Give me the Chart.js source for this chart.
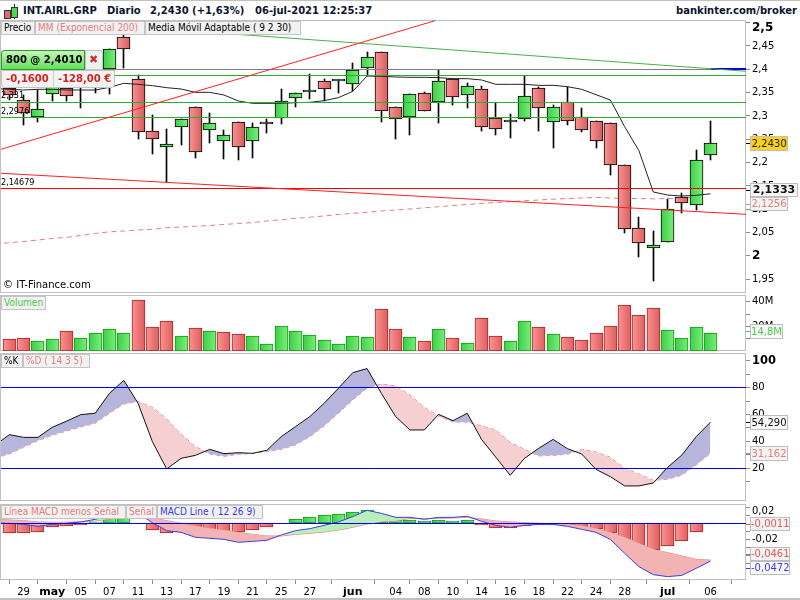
<!DOCTYPE html>
<html>
<head>
<meta charset="utf-8">
<script src="https://cdn.jsdelivr.net/npm/chart.js@4/dist/chart.umd.min.js"></script>
<style>
body { margin:0; background:#fff; width:800px; height:600px; overflow:hidden; font-family:"DejaVu Sans",sans-serif; font-size:10px; }
canvas { position:absolute; left:0; }
.frame { position:absolute; left:0; width:746px; box-sizing:border-box; border:1px solid #c0c0c0; }
.t { position:absolute; white-space:nowrap; line-height:14px; }
.tab { position:absolute; box-sizing:border-box; height:14px; line-height:12px; background:#f1f1f1; border:1px solid #c4c4c4; white-space:nowrap; overflow:hidden; padding-left:2px; font-family:"DejaVu Sans Condensed","DejaVu Sans",sans-serif; }
.box { position:absolute; box-sizing:border-box; border:1px solid #bdbdbd; background:#f3f3f3; text-align:center; white-space:nowrap; }
.dash { position:absolute; left:746px; width:4px; height:1px; }
</style>
</head>
<body>
<div style="position:absolute;left:0;top:0;width:800px;height:1px;background:#c0c0c0"></div>
<div style="position:absolute;left:0;top:598px;width:800px;height:2px;background:#c0c0c0"></div>
<div class="frame" style="top:20px;height:273px"></div>
<div class="frame" style="top:295px;height:56px"></div>
<div class="frame" style="top:353px;height:148px"></div>
<div class="frame" style="top:504px;height:76px"></div>
<canvas id="priceChart" width="800" height="273" style="top:20px"></canvas>
<canvas id="volumeChart" width="800" height="56" style="top:295px"></canvas>
<canvas id="stochChart" width="800" height="148" style="top:353px"></canvas>
<canvas id="macdChart" width="800" height="96" style="top:504px"></canvas>
<div id="overlay"></div>
<script>
const opens = [2.3592,2.3342,2.2985,2.3464,2.3592,2.3699,2.3771,2.4000,2.4685,2.3785,2.2671,2.2328,2.2771,2.3185,2.2692,2.2471,2.2864,2.2456,2.2864,2.2949,2.3392,2.3506,2.3749,2.3749,2.3692,2.4035,2.4364,2.3199,2.2985,2.3485,2.3292,2.3785,2.3442,2.3571,2.2949,2.2878,2.2928,2.3592,2.2864,2.3292,2.2985,2.2885,2.2842,2.1942,2.0592,2.0178,2.0292,2.1256,2.1085,2.2156];
const highs = [2.3664,2.3449,2.3556,2.3985,2.3771,2.4021,2.4128,2.4428,2.4735,2.3885,2.3021,2.2721,2.2928,2.3185,2.3064,2.2692,2.2864,2.2856,2.2928,2.3571,2.3485,2.3892,2.3785,2.3771,2.4128,2.4371,2.4364,2.3199,2.3478,2.3514,2.3985,2.3785,2.3699,2.3635,2.3285,2.3035,2.3856,2.3614,2.3235,2.3614,2.3171,2.2885,2.2842,2.1942,2.0835,2.0535,2.1221,2.1342,2.2271,2.2892];
const lows = [2.3342,2.2806,2.2878,2.3328,2.3328,2.3178,2.3485,2.3471,2.4035,2.2506,2.2185,2.1578,2.2378,2.2106,2.2421,2.2085,2.2056,2.2106,2.2635,2.2828,2.3199,2.3364,2.3314,2.3499,2.3542,2.3856,2.2878,2.2514,2.2599,2.3099,2.2856,2.3235,2.3178,2.2685,2.2599,2.2535,2.2899,2.2685,2.2321,2.2814,2.2664,2.2321,2.1742,2.0499,1.9985,1.9471,2.0292,2.0914,2.0985,2.2056];
const closes = [2.3449,2.3071,2.3142,2.3628,2.3435,2.3878,2.4021,2.4428,2.4428,2.2664,2.2514,2.2392,2.2928,2.2235,2.2842,2.2592,2.2328,2.2756,2.2821,2.3314,2.3485,2.3535,2.3585,2.3749,2.3978,2.4256,2.3099,2.2928,2.3478,2.3099,2.3756,2.3414,2.3649,2.2756,2.2714,2.2906,2.3435,2.3164,2.3185,2.2885,2.2692,2.2456,2.1942,2.0571,2.0271,2.0235,2.0999,2.1128,2.2049,2.2430];
// line series below start one bar before the first candle, off the left edge
const adaptiveMA = [2.3585,2.3571,2.3556,2.3571,2.3571,2.3556,2.3556,2.3556,2.3614,2.3699,2.3678,2.3649,2.3606,2.3578,2.3506,2.3506,2.3449,2.3321,2.3271,2.3271,2.3271,2.3285,2.3292,2.3328,2.3392,2.3528,2.3856,2.3849,2.3835,2.3828,2.3828,2.3821,2.3799,2.3799,2.3771,2.3678,2.3678,2.3678,2.3656,2.3656,2.3628,2.3571,2.3456,2.3342,2.2771,2.2256,2.1371,2.1306,2.1285,2.1299,2.1333];
const ema200 = [2.0258,2.0285,2.0310,2.0342,2.0375,2.0400,2.0439,2.0482,2.0518,2.0535,2.0557,2.0572,2.0606,2.0621,2.0636,2.0653,2.0675,2.0696,2.0717,2.0750,2.0777,2.0807,2.0831,2.0857,2.0889,2.0914,2.0936,2.0964,2.0985,2.1007,2.1032,2.1056,2.1082,2.1103,2.1127,2.1146,2.1163,2.1184,2.1199,2.1217,2.1232,2.1242,2.1255,2.1242,2.1234,2.1230,2.1225,2.1230,2.1236,2.1256];
const stochK = [37.1,45.0,43.0,43.0,50.5,55.0,59.9,60.9,75.7,85.4,68.3,39.8,19.5,27.4,29.6,34.1,30.9,31.6,31.1,33.4,43.5,51.0,58.4,68.3,79.5,91.1,94.1,75.7,58.4,48.5,48.5,60.1,55.4,60.9,41.5,28.2,14.8,27.4,34.9,41.5,34.6,30.6,19.2,13.8,6.9,6.9,9.1,20.7,29.9,43.5,54.29];
const stochD = [27.7,30.6,35.6,40.6,44.5,47.7,50.7,53.4,60.9,67.8,69.6,65.3,56.7,45.5,36.1,30.6,28.9,30.4,31.1,32.6,34.1,37.3,43.5,51.5,60.9,70.8,79.5,82.7,81.2,74.5,65.3,58.9,54.4,54.4,51.5,48.5,39.3,34.1,29.2,29.6,30.4,34.1,32.1,28.2,20.0,15.8,11.1,11.8,15.0,22.5,31.162];
const macdLine = [0.0004,0,-0.0013,-0.0038,-0.0013,0,0.0017,0.005,0.0092,0.0146,0.0125,0.0008,-0.0092,-0.0113,-0.0175,-0.0188,-0.0201,-0.0238,-0.0226,-0.0213,-0.0146,-0.0092,-0.0067,-0.0025,0.0017,0.0084,0.0163,0.0125,0.0075,0.0075,0.005,0.0075,0.0075,0.0088,0.0025,-0.0025,-0.005,-0.0025,-0.0013,-0.0013,-0.0038,-0.0075,-0.0113,-0.0201,-0.0376,-0.0543,-0.0643,-0.0668,-0.0652,-0.0564,-0.0472];
const macdSignal = [0.0050,0.0042,0.0033,0.0017,0.0013,0.0013,0.0021,0.0029,0.0054,0.0084,0.0092,0.0067,0.0033,0,-0.0033,-0.0063,-0.0084,-0.0113,-0.0138,-0.0159,-0.0159,-0.0138,-0.0125,-0.0109,-0.0084,-0.005,-0.0008,0.0021,0.0029,0.0063,0.0058,0.0063,0.0067,0.0075,0.0054,0.0029,0.0017,0.0008,0,-0.0004,-0.0013,-0.0029,-0.0063,-0.0113,-0.0175,-0.0251,-0.0326,-0.0368,-0.0409,-0.0451,-0.0461];
const volumes = [9.6,10.4,7.9,9.6,16.1,10.4,14.5,17.8,14.5,41.5,19.4,24.3,12,18.6,16.1,15.3,13.7,12,5.5,20.2,16.1,12.8,8.7,5.5,12,11.2,34.2,17.8,11.2,7.9,17.8,10.4,6.3,26.8,12,7.9,24.3,19.4,13.7,11.2,8.7,14.5,20.2,37.4,29.2,35,16.9,10.4,19.4,14.8];
const volumeUp = [0,0,1,1,0,1,1,1,1,0,0,0,1,0,1,0,0,1,1,1,1,1,1,1,1,1,0,0,1,0,1,0,1,0,0,1,1,0,1,0,0,0,0,0,0,0,1,1,1,1];
const macdHist = [-0.0125,-0.0125,-0.0113,-0.005,-0.0038,-0.0025,0.0017,0.012,0.012,0,-0.0079,-0.0125,-0.0113,-0.015,-0.0125,-0.0113,-0.0113,-0.0088,-0.005,0,0.005,0.0075,0.01,0.0113,0.0138,0.0163,0.01,0.0038,0.0038,0.0025,0.0038,0.0025,0.0038,-0.0025,-0.0063,-0.0063,-0.0033,-0.002,-0.002,-0.0033,-0.005,-0.0075,-0.0125,-0.0226,-0.0301,-0.0338,-0.0288,-0.0226,-0.0113,-0.0011];
const dayLabels = ['','29','','may','','05','','07','','11','','13','','17','','19','','21','','25','','27','','','jun','','','04','','08','','10','','14','','16','','18','','22','','24','','28','','','jul','','','06'];
const priceTicks = [2.5,2.45,2.4,2.35,2.3,2.25,2.2,2.15,2.1,2.05,2,1.95];
const volumeTicks = [40,30,20,10];
const stochTicks = [100,90,80,70,60,50,40,30,20,10];
const macdTicks = [0.02,0.01,-0.01,-0.02,-0.03,-0.04,-0.05];
// drawn objects: [bar index, price]
const riseLine = [[-0.58,2.2286],[29.75,2.5041]];
const fallLine = [[-0.58,2.1772],[51.48,2.0893]];
const greenTrend = [[15.63,2.4756],[51.48,2.3957]];
const levelGrey = [[-0.58,2.4],[49,2.4]];
const levelBlue = [[49,2.4],[51.48,2.4]];
const levelGreen = [2.3871,2.3285,2.2971];
const levelRed = 2.1446;
const xMin = -0.58, xMax = 51.48;

Chart.defaults.font.family = '"DejaVu Sans", sans-serif';
Chart.defaults.font.size = 10;
Chart.defaults.color = '#000';
Chart.defaults.animation = false;

const idx = volumes.map((v, i) => i);
const pts = (arr, from = 0) => arr.map((y, i) => ({ x: i + from, y }));
const seg = arr => arr.map(p => ({ x: p[0], y: p[1] }));
const flat = y => [{ x: xMin, y }, { x: xMax, y }];
const comma = v => String(v).replace('.', ',');

function lineSet(data, color, order, extra) {
  return Object.assign({ type: 'line', data, borderColor: color, borderWidth: 1, pointRadius: 0, tension: 0, order, spanGaps: false }, extra);
}

function barFill(ctx, left, right) {
  if (!ctx.parsed) return left;
  const p = ctx.chart.scales.x.getPixelForValue(ctx.parsed.x);
  if (!isFinite(p)) return left;
  const g = ctx.chart.ctx.createLinearGradient(p - 6, 0, p + 6, 0);
  g.addColorStop(0, left);
  g.addColorStop(1, right);
  return g;
}
const redFill = ctx => barFill(ctx, '#f79292', '#d85f5f');
const greenFill = ctx => barFill(ctx, '#3ed04a', '#78ec78');

// keep bars and flat lines on whole pixels so they stay crisp like the original
const snapPlugin = {
  id: 'snap',
  beforeDatasetDraw(chart, args) {
    const meta = chart.getDatasetMeta(args.index);
    const snap = chart.data.datasets[args.index].snap;
    if (meta.type === 'bar') {
      meta.data.forEach(el => {
        el.x = Math.floor(el.x) + 0.5;
        el.y = Math.round(el.y);
        el.base = Math.round(el.base);
      });
    } else if (snap === 1) {
      meta.data.forEach(el => { el.y = Math.floor(el.y) + 0.5; });
    } else if (snap === 2) {
      meta.data.forEach(el => { el.y = Math.round(el.y); });
    }
  }
};

function panel(id, datasets, yMin, yMax, yTicks, yLabel, yFont, hasX) {
  return new Chart(document.getElementById(id), {
    type: 'bar',
    data: { datasets },
    plugins: [snapPlugin],
    options: {
      responsive: false,
      events: [],
      layout: { autoPadding: false, padding: { left: 1 } },
      plugins: { legend: { display: false }, tooltip: { enabled: false } },
      scales: {
        x: {
          type: 'linear', min: xMin, max: xMax, display: hasX, offset: false,
          border: { display: false },
          grid: { drawOnChartArea: false, color: '#8a8a8a', tickLength: 4 },
          afterBuildTicks: s => { s.ticks = idx.filter(i => dayLabels[i]).map(i => ({ value: i })); },
          afterFit: s => { if (hasX) s.height = 20; s.paddingLeft = 0; s.paddingRight = 0; },
          ticks: {
            autoSkip: false, maxRotation: 0, padding: 2,
            callback: v => dayLabels[v],
            font: c => (c.tick && dayLabels[c.tick.value] && dayLabels[c.tick.value].length === 3 ? { size: 11, weight: 'bold' } : { size: 10 })
          }
        },
        y: {
          type: 'linear', position: 'right', min: yMin, max: yMax,
          border: { display: false },
          grid: { drawOnChartArea: false, color: '#8a8a8a', tickLength: 4 },
          afterBuildTicks: s => { s.ticks = yTicks.map(value => ({ value })); },
          afterFit: s => { s.width = 54; s.paddingTop = 0; s.paddingBottom = 0; },
          ticks: { autoSkip: false, padding: 2, callback: yLabel, font: yFont }
        }
      }
    }
  });
}

const bodySets = { barThickness: 13, grouped: false, borderSkipped: false };

panel('priceChart', [
  lineSet(seg(riseLine), '#ff2020', 1),
  lineSet(seg(fallLine), '#ff2020', 1),
  lineSet(seg(greenTrend), '#48b048', 1),
  lineSet(seg(levelGrey), '#808080', 1, { snap: 1 }),
  lineSet(seg(levelBlue), '#0000e0', 1, { borderWidth: 2, snap: 2 }),
  ...levelGreen.map(v => lineSet(flat(v), '#2cab2c', 1, { snap: 1 })),
  lineSet(flat(levelRed), '#ff0000', 1, { snap: 1 }),
  lineSet(pts(adaptiveMA, -1), '#222', 2),
  Object.assign({
    data: idx.map(i => ({ x: i, y: [opens[i], closes[i]] })),
    backgroundColor: c => (closes[c.dataIndex] >= opens[c.dataIndex] ? greenFill(c) : redFill(c)),
    borderColor: '#000', borderWidth: 1, minBarLength: 2, order: 4
  }, bodySets),
  { data: idx.map(i => ({ x: i, y: [lows[i], highs[i]] })), backgroundColor: '#000', barThickness: 1, grouped: false, order: 5 },
  lineSet(pts(ema200, -1), '#e87c7c', 6, { borderDash: [5, 4] })
], 1.9207, 2.5056, priceTicks,
  v => (v === 2.5 ? '' : comma(v)),
  c => (c.tick && c.tick.value === 2 ? { size: 12, weight: 'bold' } : { size: 10 }), false);

panel('volumeChart', [
  Object.assign({
    data: pts(volumes),
    backgroundColor: c => (volumeUp[c.dataIndex] ? barFill(c, '#3ed04a', '#78ec78') : barFill(c, '#fa9090', '#e06060')),
    borderColor: c => (volumeUp[c.dataIndex] ? '#109a10' : '#a82424'), borderWidth: 1
  }, bodySets)
], -0.33, 45.6, volumeTicks,
  v => (v === 40 || v === 20 ? v + 'M' : ''), { size: 10 }, false);

panel('stochChart', [
  lineSet(flat(80), '#0000ee', 1, { snap: 1 }),
  lineSet(flat(20), '#0000ee', 1, { snap: 1 }),
  lineSet(pts(stochK, -1), '#111', 2, { fill: { target: 3, above: '#b6b6dc', below: '#f6d0d0' } }),
  lineSet(pts(stochD, -1), '#e87c7c', 3, { borderDash: [4, 3] })
], -4.3, 105.7, stochTicks,
  v => (v % 20 === 0 ? String(v) : ''),
  c => (c.tick && c.tick.value === 100 ? { size: 11.5, weight: 'bold' } : { size: 10 }), false);

panel('macdChart', [
  lineSet(flat(0), '#0000ee', 1, { snap: 1 }),
  lineSet(pts(macdLine, -1), '#3c3ce8', 2, { fill: { target: 2, above: '#b9f0b9', below: '#f4b3b3' } }),
  lineSet(pts(macdSignal, -1), '#e87c7c', 3),
  Object.assign({
    data: pts(macdHist),
    backgroundColor: c => (macdHist[c.dataIndex] >= 0 ? barFill(c, '#3ed04a', '#78ec78') : barFill(c, '#fa9090', '#e06060')),
    borderColor: c => (macdHist[c.dataIndex] >= 0 ? '#109a10' : '#a82424'), borderWidth: 1, order: 4
  }, bodySets)
], -0.071, 0.0242, macdTicks,
  v => (v === -0.02 ? '-0,02' : ''), { size: 10 }, true);

// page furniture: header, legend tabs, value tags
const overlay = document.getElementById('overlay');
function el(cls, css, text) {
  const d = document.createElement('div');
  d.className = cls;
  d.style.cssText = 'position:absolute;' + css;
  if (text !== undefined) d.textContent = text;
  overlay.appendChild(d);
  return d;
}
const navy = 'color:#0b1530;font-weight:bold;font-size:10px;';
el('t', 'left:23px;top:4px;' + navy, 'INT.AIRL.GRP');
el('t', 'left:107px;top:4px;' + navy, 'Diario');
el('t', 'left:150px;top:4px;' + navy, '2,2430 (+1,63%)');
el('t', 'left:255px;top:4px;' + navy, '06-jul-2021 12:25:37');
el('t', 'right:3px;top:4px;' + navy, 'bankinter.com/broker');
// little candle icon
el('', 'left:4px;top:10px;width:5px;height:7px;background:#e06a6a;border:1px solid #333');
el('', 'left:14px;top:4px;width:1px;height:15px;background:#222');
el('', 'left:11px;top:7px;width:5px;height:9px;background:#4bd94b;border:1px solid #333');

el('tab', 'left:1px;top:21px;width:34px', 'Precio');
el('tab', 'left:35px;top:21px;width:110px;color:#e87c7c', 'MM (Exponencial 200)');
el('tab', 'left:145px;top:21px;width:156px', 'Media Móvil Adaptable ( 9 2 30)');
el('tab', 'left:1px;top:296px;width:45px;color:#4cc94c', 'Volumen');
el('tab', 'left:1px;top:354px;width:22px', '%K');
el('tab', 'left:23px;top:354px;width:67px;color:#e87c7c', '%D ( 14 3 5)');
el('tab', 'left:1px;top:505px;width:125px;color:#e87c7c', 'Línea MACD menos Señal');
el('tab', 'left:126px;top:505px;width:31px;color:#e87c7c', 'Señal');
el('tab', 'left:157px;top:505px;width:106px;color:#3c3ce8', 'MACD Line ( 12 26 9)');

const smallLabel = 'font-size:9px;font-family:"DejaVu Sans Condensed","DejaVu Sans",sans-serif;';
el('t', 'left:3px;top:278px', '© IT-Finance.com');
el('t', 'left:1px;top:88px;' + smallLabel, '2,331');
el('t', 'left:1px;top:104px;' + smallLabel, '2,2976');
el('t', 'left:1px;top:175px;' + smallLabel, '2,14679');

// order ticket
el('', 'left:1px;top:70px;width:114px;height:18px;box-sizing:border-box;background:#f3f3f3;border:1px solid #c4c4c4;border-radius:0 0 4px 4px');
el('', 'left:53px;top:70px;width:1px;height:18px;background:#cfcfcf');
el('', 'left:1px;top:50px;width:84px;height:20px;box-sizing:border-box;background:linear-gradient(#c4f5b8,#63e05c);border:1px solid #25a025;border-radius:3px 0 0 0');
el('', 'left:85px;top:50px;width:18px;height:20px;box-sizing:border-box;background:#f0f0f0;border:1px solid #c4c4c4;border-radius:0 3px 0 0');
el('t', 'left:6px;top:53px;font-weight:bold', '800 @ 2,4010');
el('t', 'left:89px;top:53px;font-weight:bold;font-size:11px;color:#c83232', '✖');
el('t', 'left:6px;top:72px;font-weight:bold;color:#d82020', '-0,1600');
el('t', 'left:58px;top:72px;font-weight:bold;color:#d82020', '-128,00 €');

el('t', 'left:752px;top:20px;font-weight:bold;font-size:12px', '2,5');
el('t', 'left:752px;top:504px', '0,02');

function tag(text, top, width, height, color, css, dashColor) {
  el('box', `left:750px;top:${top}px;width:${width}px;height:${height}px;line-height:${height - 2}px;color:${color};` + (css || ''), text);
  el('dash', `top:${top + Math.floor(height / 2)}px;background:${dashColor || color}`);
}
tag('2,2430', 136, 38, 15, '#222', 'background:#ffd21a', '#000');
tag('2,1333', 183, 48, 14, '#111', 'font-weight:bold;font-size:11px;background:#f6f6f6', '#000');
tag('2,1256', 197, 38, 14, '#e87c7c', '', '#e87c7c');
tag('14,8M', 324, 33, 15, '#4cc94c', 'background:#fafafa');
tag('54,290', 415, 38, 15, '#111', 'background:#f8f8f8');
tag('31,162', 446, 38, 15, '#e87c7c', 'background:#f3f3f3');
tag('-0,0011', 517, 40, 14, '#e05a5a', '');
tag('-0,0461', 547, 40, 14, '#e05a5a', '');
tag('-0,0472', 561, 40, 14, '#3c3ce8', 'background:#f8f8f8');
</script>
</body>
</html>
